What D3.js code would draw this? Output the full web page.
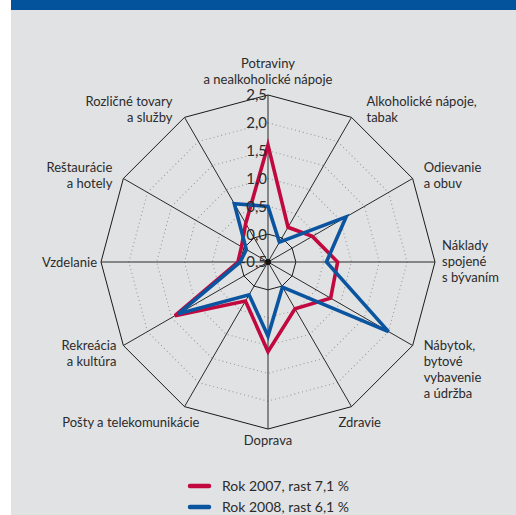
<!DOCTYPE html>
<html>
<head>
<meta charset="utf-8">
<script src="https://cdn.jsdelivr.net/npm/d3@7"></script>
<style>
  html, body { margin: 0; padding: 0; background: #ffffff; }
  svg { display: block; }
  text { font-family: Lato, "Noto Sans", sans-serif; fill: #2b2b2b; }
</style>
</head>
<body>
<svg id="chart" width="516" height="515"></svg>
<script>
// Spending categories, clockwise from the top
const categories = [
  ["Potraviny", "a nealkoholické nápoje"],
  ["Alkoholické nápoje,", "tabak"],
  ["Odievanie", "a obuv"],
  ["Náklady", "spojené", "s bývaním"],
  ["Nábytok,", "bytové", "vybavenie", "a údržba"],
  ["Zdravie"],
  ["Doprava"],
  ["Pošty a telekomunikácie"],
  ["Rekreácia", "a kultúra"],
  ["Vzdelanie"],
  ["Reštaurácie", "a hotely"],
  ["Rozličné tovary", "a služby"]
];

// Contributions by category
const values2007 = [1.6, 0.22, 0.42, 0.75, 0.8, 0.47, 1.11, 0.31, 1.43, 0.04, 0.05, 0.3];
const values2008 = [0.5, -0.09, 1.12, 0.55, 2.0, 0.02, 0.83, 0.18, 1.36, 0.0, -0.05, 0.71];

const tickValues = [-0.5, 0.0, 0.5, 1.0, 1.5, 2.0, 2.5];
const tickLabels = ["-0,5", "0,0", "0,5", "1,0", "1,5", "2,0", "2,5"];

const seriesNames = ["Rok 2007, rast 7,1 %", "Rok 2008, rast 6,1 %"];
const seriesColors = ["#c2093f", "#0b55a0"];

const W = 516, H = 515;
const cx = 268, cy = 262, R = 167;

const svg = d3.select("#chart");

// panel background and header strip
svg.append("rect").attr("x", 11).attr("y", 0).attr("width", W - 11).attr("height", H).attr("fill", "#e1e2e4");
svg.append("rect").attr("x", 11).attr("y", 0).attr("width", W - 11).attr("height", 10).attr("fill", "#02529c");

const n = categories.length;
const angle = d3.scaleLinear().domain([0, n]).range([0, 2 * Math.PI]);
const r = d3.scaleLinear().domain([-0.5, 2.5]).range([0, R]);

const pt = (i, v) => {
  const a = angle(i);
  return [cx + r(v) * Math.sin(a), cy - r(v) * Math.cos(a)];
};

const g = svg.append("g");

// grid rings
tickValues.slice(1).forEach((t, k) => {
  const ring = d3.range(n).map(i => pt(i, t));
  const isEdge = t === 0 || t === 2.5;
  g.append("path")
    .attr("d", d3.line()(ring) + "Z")
    .attr("fill", "none")
    .attr("stroke", isEdge ? "#1a1a1a" : "#9a9a9a")
    .attr("stroke-width", isEdge ? 1 : 1.1)
    .attr("stroke-dasharray", isEdge ? null : "1,3");
});

// spokes
d3.range(n).forEach(i => {
  const [x, y] = pt(i, 2.5);
  g.append("line")
    .attr("x1", cx).attr("y1", cy).attr("x2", x).attr("y2", y)
    .attr("stroke", "#2a2a2a").attr("stroke-width", 1);
});

g.append("circle").attr("cx", cx).attr("cy", cy).attr("r", 3).attr("fill", "#111");

// series outlines
[values2007, values2008].forEach((vals, s) => {
  const poly = vals.map((v, i) => pt(i, v));
  g.append("path")
    .attr("d", d3.line()(poly) + "Z")
    .attr("fill", "none")
    .attr("stroke", seriesColors[s])
    .attr("stroke-width", 3.6)
    .attr("stroke-linejoin", "miter");
});

// radial tick labels along the top spoke
tickValues.forEach((t, k) => {
  g.append("text")
    .attr("x", cx - 1)
    .attr("y", cy - r(t))
    .attr("dy", "0.36em")
    .attr("text-anchor", "end")
    .attr("font-size", 15)
    .attr("fill", "#333")
    .text(tickLabels[k]);
});

// category labels: [dx, dy of first line from outer vertex, anchor]
const labelLayout = [
  [0, -32, "middle"],
  [15, -16, "start"],
  [11, -11, "start"],
  [7, -17, "start"],
  [11, 0, "start"],
  [-13, 16, "start"],
  [0, 11, "middle"],
  [15, 16, "end"],
  [-7, 0, "end"],
  [-4, 0, "end"],
  [-11, -11, "end"],
  [-12, -16, "end"]
];
const lineH = 16;
categories.forEach((lines, i) => {
  const [vx, vy] = pt(i, 2.5);
  const [dx, dy, anchor] = labelLayout[i];
  const t = svg.append("text")
    .attr("text-anchor", anchor)
    .attr("font-size", 13);
  lines.forEach((ln, j) => {
    t.append("tspan")
      .attr("x", vx + dx)
      .attr("y", vy + dy + j * lineH)
      .attr("dy", "0.35em")
      .text(ln);
  });
});

// legend
seriesNames.forEach((name, s) => {
  const y = 486 + s * 21;
  svg.append("line")
    .attr("x1", 190).attr("x2", 209).attr("y1", y).attr("y2", y)
    .attr("stroke", seriesColors[s]).attr("stroke-width", 4.5)
    .attr("stroke-linecap", "round");
  svg.append("text")
    .attr("x", 222).attr("y", y).attr("dy", "0.35em")
    .attr("font-size", 14)
    .text(name);
});
</script>
</body>
</html>
